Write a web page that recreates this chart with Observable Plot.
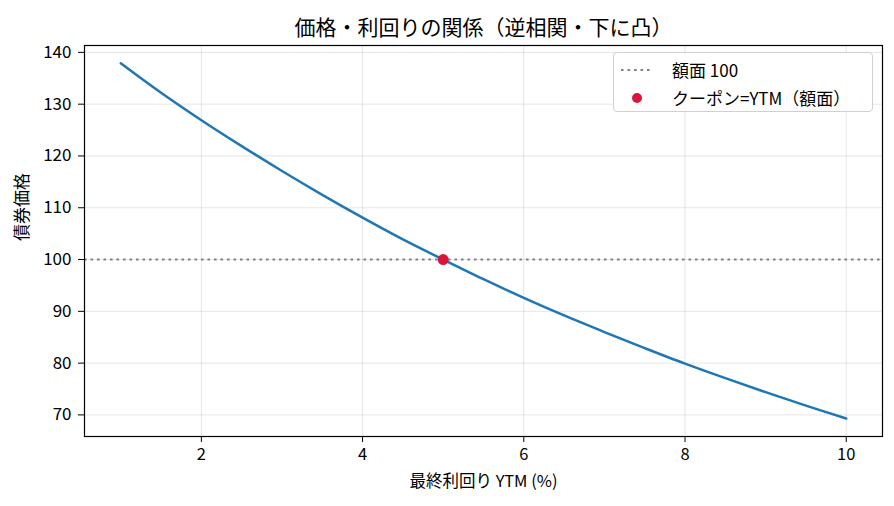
<!DOCTYPE html>
<html><head><meta charset="utf-8">
<script src="https://cdn.jsdelivr.net/npm/d3@7"></script>
<script src="https://cdn.jsdelivr.net/npm/@observablehq/plot@0.6"></script>
<style>
body{margin:0;background:#fff;font-family:"Noto Sans CJK JP","Noto Sans",sans-serif;}
#wrap{position:relative;width:894px;height:506px;}
.legend{position:absolute;left:613px;top:52px;width:260px;height:60px;border:1px solid #d0d0d0;border-radius:4px;background:rgba(255,255,255,0.85);font-size:17px;color:#000;box-sizing:border-box;}
.legend .row{position:absolute;left:6px;height:24px;display:flex;align-items:center;}
.legend .sym{width:34px;display:flex;justify-content:center;align-items:center;}
.legend .lab{margin-left:18px;white-space:nowrap;line-height:24px;}
</style></head>
<body><div id="wrap"></div>
<script>
const titleText = "価格・利回りの関係（逆相関・下に凸）";
const xLabel = "最終利回り YTM (%)";
const yLabel = "債券価格";
const ytm = [1, 1.5, 2, 2.5, 3, 3.5, 4, 4.5, 5, 5.5, 6, 6.5, 7, 7.5, 8, 8.5, 9, 9.5, 10];
const price = [137.9, 132.2, 126.9, 121.9, 117.1, 112.5, 108.1, 103.9, 100.0, 96.2, 92.6, 89.2, 86.0, 82.9, 79.9, 77.1, 74.4, 71.8, 69.3];
const parValue = 100;
const parYtm = 5;
const xTicks = [2, 4, 6, 8, 10];
const yTicks = [70, 80, 90, 100, 110, 120, 130, 140];
const legendLabels = ["額面 100", "クーポン=YTM（額面）"];

const data = ytm.map((x, i) => ({x, y: price[i]}));

const chart = Plot.plot({
  width: 894, height: 506,
  marginTop: 45, marginBottom: 70, marginLeft: 84, marginRight: 12,
  style: {fontFamily: '"Noto Sans CJK JP","Noto Sans",sans-serif', fontSize: "17px", color: "#000", background: "#fff"},
  x: {domain: [0.55, 10.45], ticks: xTicks, label: null},
  y: {domain: [65.83, 141.33], ticks: yTicks, label: null},
  marks: [
    Plot.gridX(xTicks, {stroke: "#000", strokeOpacity: 0.1}),
    Plot.gridY(yTicks, {stroke: "#000", strokeOpacity: 0.1}),
    Plot.ruleY([parValue], {stroke: "#808080", strokeWidth: 2, strokeDasharray: "2.6,3.9"}),
    Plot.line(data, {x: "x", y: "y", stroke: "#1f77b4", strokeWidth: 2.5, curve: "catmull-rom"}),
    Plot.dot([{x: parYtm, y: parValue}], {x: "x", y: "y", r: 5.5, fill: "#dc143c", stroke: "none"}),
    Plot.frame({stroke: "#000", strokeWidth: 1.2}),
    Plot.axisX(xTicks, {tickSize: 6, tickPadding: 6, fontSize: 16.5, label: null}),
    Plot.axisY(yTicks, {tickSize: 6, tickPadding: 7, fontSize: 17, label: null}),
    Plot.text([xLabel], {frameAnchor: "bottom", dy: 50, fontSize: 16.5}),
    Plot.text([yLabel], {frameAnchor: "left", dx: -62, rotate: -90, fontSize: 17}),
    Plot.text([titleText], {frameAnchor: "top", dy: -25, fontSize: 21})
  ]
});
const wrap = document.getElementById("wrap");
wrap.appendChild(chart);
const lg = document.createElement("div");
lg.className = "legend";
lg.innerHTML = `
<div class="row" style="top:5px"><div class="sym"><svg width="34" height="6"><line x1="1" y1="3" x2="33" y2="3" stroke="#808080" stroke-width="2" stroke-dasharray="2.6,3.9"/></svg></div><div class="lab">${legendLabels[0]}</div></div>
<div class="row" style="top:33px"><div class="sym"><svg width="12" height="12"><circle cx="6" cy="6" r="5" fill="#dc143c"/></svg></div><div class="lab">${legendLabels[1]}</div></div>`;
wrap.appendChild(lg);
</script>
</body></html>
